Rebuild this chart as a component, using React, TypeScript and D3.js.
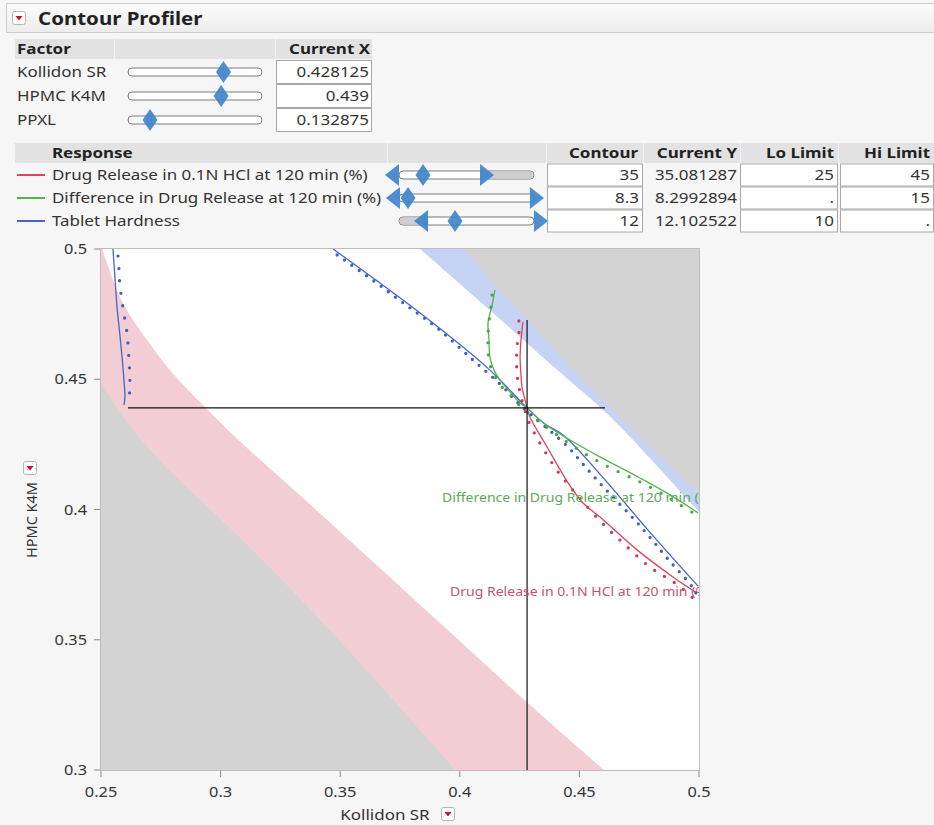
import { scaleLinear, line, curveCatmullRom, curveBasis } from 'd3'

const FONT = "'Segoe UI', 'Noto Sans', 'Open Sans', sans-serif"
// the reference screenshot is stretched horizontally, so text is widened to match
const STRETCH = 1.17

// ---- factor table ----
const factorNames = ['Kollidon SR', 'HPMC K4M', 'PPXL']
const factorValues = [0.428125, 0.439, 0.132875]
const factorRanges = [
  [0.25, 0.5],
  [0.3, 0.5],
  [0.1, 0.3],
]

// ---- response table ----
const responseNames = [
  'Drug Release in 0.1N HCl at 120 min (%)',
  'Difference in Drug Release at 120 min (%)',
  'Tablet Hardness',
]
const responseColors = ['#d6485c', '#58b252', '#4467c8']
const contourValues = ['35', '8.3', '12']
const currentYValues = ['35.081287', '8.2992894', '12.102522']
const loLimits = ['25', '.', '10']
const hiLimits = ['45', '15', '.']
// slider marks as fraction of the track: lo limit, contour, hi limit
const sliderLo = [0, 0.007, 0.215]
const sliderPos = [0.178, 0.067, 0.415]
const sliderHi = [0.6, 0.97, 1.0]
const sliderShadeLo = [false, false, true]
const sliderShadeHi = [true, false, false]

// ---- contour plot ----
const xTickValues = [0.25, 0.3, 0.35, 0.4, 0.45, 0.5]
const yTickValues = [0.3, 0.35, 0.4, 0.45, 0.5]

// shaded region boundaries [Kollidon SR, HPMC K4M]
const grayLowBoundary = [
  [0.25, 0.4486], [0.2651, 0.4267], [0.2914, 0.4036], [0.3181, 0.3806], [0.3595, 0.3403], [0.398, 0.3],
]
const pinkBoundary = [
  [0.2505, 0.5], [0.2538, 0.4908], [0.2592, 0.4777], [0.2692, 0.4651], [0.2788, 0.4528], [0.2914, 0.4413],
  [0.3069, 0.4267], [0.3332, 0.4056], [0.3629, 0.3806], [0.3959, 0.353], [0.4281, 0.3257], [0.4603, 0.3],
]
const blueBandBoundary = [
  [0.3834, 0.5], [0.4126, 0.4766], [0.4452, 0.4497], [0.4607, 0.4382], [0.4795, 0.4198], [0.5, 0.399],
]
const grayHighBoundary = [
  [0.4013, 0.5], [0.4252, 0.4758], [0.4511, 0.4497], [0.4753, 0.4278], [0.5, 0.4063],
]

// contour curves
const hardnessLeft = [
  [0.255, 0.5], [0.2559, 0.4881], [0.2567, 0.4777], [0.2579, 0.467], [0.2588, 0.4585], [0.2596, 0.4497],
  [0.26, 0.4432], [0.2596, 0.4401],
]
const hardnessLeftDots = [
  [0.2571, 0.4973], [0.2575, 0.4923], [0.2579, 0.4862], [0.2592, 0.4774], [0.2609, 0.4674], [0.2617, 0.4574],
  [0.2621, 0.4474], [0.2617, 0.4424],
]
const hardnessMain = [
  [0.347, 0.5], [0.3834, 0.4754], [0.4126, 0.4535], [0.4281, 0.439], [0.4356, 0.4328], [0.4432, 0.4286],
  [0.4586, 0.4136], [0.4787, 0.3921], [0.4996, 0.3706],
]
const hardnessMainDots = [
  [0.3487, 0.4977], [0.3629, 0.4885], [0.3763, 0.4793], [0.3905, 0.4697], [0.4055, 0.4574], [0.4181, 0.447],
  [0.4239, 0.4413], [0.4323, 0.4344], [0.4448, 0.4244], [0.4536, 0.4152], [0.462, 0.4067], [0.4712, 0.3979],
  [0.4787, 0.3902], [0.4866, 0.3814], [0.4975, 0.3699], [0.4992, 0.3668],
]
const releaseCurve = [
  [0.4264, 0.472], [0.4256, 0.4651], [0.4252, 0.4585], [0.4256, 0.4516], [0.426, 0.447], [0.4273, 0.442],
  [0.4281, 0.439], [0.4293, 0.4355], [0.4365, 0.424], [0.4448, 0.4109], [0.4515, 0.4025], [0.4586, 0.3971],
  [0.4741, 0.3845], [0.4891, 0.3741], [0.4992, 0.3679],
]
const releaseDots = [
  [0.4247, 0.4724], [0.4247, 0.4674], [0.4239, 0.4624], [0.4239, 0.4524], [0.4247, 0.4474], [0.4256, 0.4432],
  [0.4268, 0.4393], [0.4285, 0.4344], [0.4323, 0.4274], [0.4365, 0.4209], [0.4411, 0.4144], [0.449, 0.4056],
  [0.4595, 0.3948], [0.4678, 0.3875], [0.4795, 0.3779], [0.4912, 0.371], [0.4983, 0.3653],
]
const differenceCurve = [
  [0.4147, 0.4843], [0.4135, 0.4785], [0.4118, 0.4716], [0.4122, 0.4651], [0.4126, 0.4585], [0.4143, 0.4535],
  [0.4168, 0.4497], [0.421, 0.4451], [0.4252, 0.4409], [0.4281, 0.439], [0.4356, 0.4328], [0.4461, 0.4267],
  [0.4586, 0.4202], [0.4753, 0.4121], [0.4879, 0.4056], [0.4996, 0.3987],
]
const differenceDots = [
  [0.4135, 0.4823], [0.413, 0.4774], [0.4122, 0.472], [0.4118, 0.467], [0.4118, 0.4624], [0.4122, 0.4574],
  [0.4139, 0.4524], [0.4176, 0.447], [0.421, 0.444], [0.4239, 0.4409], [0.4323, 0.4344], [0.4419, 0.4278],
  [0.4532, 0.4209], [0.464, 0.4155], [0.4753, 0.4106], [0.4849, 0.4059], [0.4908, 0.4025], [0.4983, 0.3983],
]
const crossX = 0.428125
const crossY = 0.439
const crossHSpan = [0.2613, 0.4607]
const crossVSpan = [0.3, 0.4727]
const contourLabels = [
  { text: 'Difference in Drug Release at 120 min (%)', at: [0.3926, 0.4029], color: '#5daa5a' },
  { text: 'Drug Release in 0.1N HCl at 120 min (%)', at: [0.3959, 0.3668], color: '#c4566b' },
]

const SLIDER_BLUE = '#3e84cc'

type TProps = {
  x: number
  y: number
  size?: number
  bold?: boolean
  fill?: string
  anchor?: 'start' | 'middle' | 'end'
  children: any
}

function T({ x, y, size = 14.5, bold = false, fill = '#333', anchor = 'start', children }: TProps) {
  return (
    <text
      transform={`translate(${x},${y}) scale(${STRETCH},1)`}
      fontSize={size}
      fontWeight={bold ? 700 : 400}
      fill={fill}
      textAnchor={anchor}
    >
      {children}
    </text>
  )
}

function RedMenu({ x, y }: { x: number; y: number }) {
  return (
    <g transform={`translate(${x},${y})`}>
      <rect x={0.5} y={0.5} width={13} height={13} rx={2} fill="#fff" stroke="#b5b5b5" />
      <path d="M3.5,5 L10.5,5 L7,9.5 Z" fill="#c8102e" />
    </g>
  )
}

function Diamond({ cx, cy }: { cx: number; cy: number }) {
  return (
    <path
      d={`M${cx},${cy - 11} L${cx + 7.5},${cy} L${cx},${cy + 11} L${cx - 7.5},${cy} Z`}
      fill={SLIDER_BLUE}
      fillOpacity={0.92}
    />
  )
}

function Tri({ x, cy, dir }: { x: number; cy: number; dir: number }) {
  // flat side at x, tip pointing in dir
  return (
    <path d={`M${x},${cy - 11} L${x + dir * 14},${cy} L${x},${cy + 11} Z`} fill={SLIDER_BLUE} fillOpacity={0.92} />
  )
}

export default function App() {
  const W = 934
  const H = 825

  const x = scaleLinear().domain([0.25, 0.5]).range([101, 699])
  const y = scaleLinear().domain([0.3, 0.5]).range([770, 249])
  const [x0, x1] = x.range()
  const [y0, y1] = y.range()

  const curve = line<number[]>()
    .x((d) => x(d[0]))
    .y((d) => y(d[1]))
    .curve(curveCatmullRom.alpha(0.5))

  const smooth = line<number[]>()
    .x((d) => x(d[0]))
    .y((d) => y(d[1]))
    .curve(curveBasis)

  const region = (b: number[][], corners: number[][]) =>
    smooth(b) + corners.map((c) => `L${x(c[0])},${y(c[1])}`).join('') + 'Z'

  const grayLowPath = region(grayLowBoundary, [[0.25, 0.3]])
  const pinkPath = region(pinkBoundary, [[0.25, 0.3], [0.25, 0.5]])
  const bluePath = region(blueBandBoundary, [[0.5, 0.5]])
  const grayHighPath = region(grayHighBoundary, [[0.5, 0.5]])

  const solids = [
    { d: hardnessLeft, c: responseColors[2] },
    { d: hardnessMain, c: responseColors[2] },
    { d: releaseCurve, c: responseColors[0] },
    { d: differenceCurve, c: responseColors[1] },
  ]
  const dotted = [
    { d: hardnessLeftDots, c: '#3f5fc4', gap: 12.5 },
    { d: hardnessMainDots, c: '#3f5fc4', gap: 9 },
    { d: releaseDots, c: '#c83d57', gap: 11.5 },
    { d: differenceDots, c: '#45a845', gap: 12 },
  ]

  const fTrack = [128, 262]
  const rTrack = [399, 534]

  return (
    <svg width={W} height={H} style={{ position: 'absolute', left: 0, top: 0, fontFamily: FONT }}>
      <defs>
        <linearGradient id="hdr" x1="0" y1="0" x2="0" y2="1">
          <stop offset="0" stopColor="#fbfbfb" />
          <stop offset="1" stopColor="#ececec" />
        </linearGradient>
        <clipPath id="plotClip">
          <rect x={x0} y={y1} width={x1 - x0} height={y0 - y1} />
        </clipPath>
      </defs>
      <rect width={W} height={H} fill="#f6f6f6" />

      {/* header */}
      <rect x={6.5} y={3.5} width={W} height={29} fill="url(#hdr)" stroke="#cdcdcd" />
      <RedMenu x={12} y={11} />
      <T x={38} y={24.5} size={17.5} bold fill="#222">
        Contour Profiler
      </T>

      {/* factor table */}
      <rect x={15} y={39} width={357} height={20} fill="#e2e2e2" />
      <line x1={114.5} x2={114.5} y1={39} y2={59} stroke="#f2f2f2" />
      <line x1={275.5} x2={275.5} y1={39} y2={59} stroke="#f2f2f2" />
      <T x={17} y={54} bold fill="#222">
        Factor
      </T>
      <T x={370} y={54} bold fill="#222" anchor="end">
        Current X
      </T>
      {factorNames.map((name, i) => {
        const cy = 72 + i * 24
        const s = scaleLinear().domain(factorRanges[i]).range(fTrack)
        return (
          <g key={name}>
            <T x={17} y={cy + 5}>
              {name}
            </T>
            <rect x={fTrack[0]} y={cy - 4} width={fTrack[1] - fTrack[0]} height={8} rx={4} fill="#fff" stroke="#7a7a7a" />
            <Diamond cx={s(factorValues[i])} cy={cy} />
            <rect x={276.5} y={cy - 11.5} width={95} height={23} fill="#fff" stroke="#a8a8a8" />
            <T x={369} y={cy + 5} anchor="end">
              {String(factorValues[i])}
            </T>
          </g>
        )
      })}

      {/* response table */}
      <rect x={15} y={143} width={W - 15} height={20} fill="#e2e2e2" />
      {[387.5, 546.5, 643.5, 740.5, 838.5].map((lx) => (
        <line key={lx} x1={lx} x2={lx} y1={143} y2={163} stroke="#f2f2f2" />
      ))}
      <T x={52} y={158} bold fill="#222">
        Response
      </T>
      {(
        [
          ['Contour', 638],
          ['Current Y', 737],
          ['Lo Limit', 834],
          ['Hi Limit', 930],
        ] as [string, number][]
      ).map(([t, tx]) => (
        <T key={t} x={tx} y={158} bold fill="#222" anchor="end">
          {t}
        </T>
      ))}
      {responseNames.map((name, i) => {
        const cy = 175 + i * 23
        const tw = rTrack[1] - rTrack[0]
        const lo = rTrack[0] + sliderLo[i] * tw
        const hi = rTrack[0] + sliderHi[i] * tw
        return (
          <g key={name}>
            <line x1={17} x2={45} y1={cy} y2={cy} stroke={responseColors[i]} strokeWidth={2} />
            <T x={52} y={cy + 5}>
              {name}
            </T>
            <rect x={rTrack[0]} y={cy - 4} width={tw} height={8} rx={4} fill="#fff" stroke="#7a7a7a" />
            {sliderShadeHi[i] && (
              <rect x={hi} y={cy - 3.5} width={rTrack[1] - hi - 0.5} height={7} rx={3.5} fill="#cfcfcf" />
            )}
            {sliderShadeLo[i] && (
              <rect x={rTrack[0] + 0.5} y={cy - 3.5} width={lo - rTrack[0]} height={7} rx={3.5} fill="#cfcfcf" />
            )}
            <Tri x={lo} cy={cy} dir={-1} />
            <Diamond cx={rTrack[0] + sliderPos[i] * tw} cy={cy} />
            <Tri x={hi} cy={cy} dir={1} />
            <rect x={547.5} y={cy - 11} width={95} height={22} fill="#fff" stroke="#a8a8a8" />
            <T x={639} y={cy + 5} anchor="end">
              {contourValues[i]}
            </T>
            <T x={737} y={cy + 5} anchor="end">
              {currentYValues[i]}
            </T>
            <rect x={740.5} y={cy - 11} width={97} height={22} fill="#fff" stroke="#a8a8a8" />
            <T x={834} y={cy + 5} anchor="end">
              {loLimits[i]}
            </T>
            <rect x={840.5} y={cy - 11} width={93} height={22} fill="#fff" stroke="#a8a8a8" />
            <T x={930} y={cy + 5} anchor="end">
              {hiLimits[i]}
            </T>
          </g>
        )
      })}

      {/* contour plot */}
      <rect x={x0} y={y1} width={x1 - x0} height={y0 - y1} fill="#fff" />
      <g clipPath="url(#plotClip)">
        <path d={pinkPath} fill="#f3cdd4" />
        <path d={grayLowPath} fill="#d3d3d3" />
        <path d={bluePath} fill="#c7d3f4" />
        <path d={grayHighPath} fill="#d3d3d3" />
        {solids.map((s, i) => (
          <path key={i} d={curve(s.d) || ''} fill="none" stroke={s.c} strokeWidth={1.3} />
        ))}
        {dotted.map((s, i) => (
          <path
            key={i}
            d={curve(s.d) || ''}
            fill="none"
            stroke={s.c}
            strokeWidth={3.3}
            strokeLinecap="round"
            strokeDasharray={`0 ${s.gap}`}
          />
        ))}
        <line x1={x(crossHSpan[0])} x2={x(crossHSpan[1])} y1={y(crossY)} y2={y(crossY)} stroke="#111" strokeWidth={1.2} />
        <line x1={x(crossX)} x2={x(crossX)} y1={y(crossVSpan[0])} y2={y(crossVSpan[1])} stroke="#111" strokeWidth={1.2} />
        {contourLabels.map((l) => (
          <T key={l.text} x={x(l.at[0])} y={y(l.at[1])} size={12} fill={l.color}>
            {l.text}
          </T>
        ))}
      </g>
      <rect x={x0 - 0.5} y={y1 - 0.5} width={x1 - x0 + 1} height={y0 - y1 + 1} fill="none" stroke="#bdbdbd" />

      {/* axes */}
      {yTickValues.map((t) => (
        <g key={t}>
          <line x1={x0 - 7} x2={x0 - 1} y1={y(t)} y2={y(t)} stroke="#888" />
          <T x={x0 - 14} y={y(t) + 5} size={14} anchor="end">
            {String(t)}
          </T>
        </g>
      ))}
      {xTickValues.map((t) => (
        <g key={t}>
          <line x1={x(t)} x2={x(t)} y1={y0 + 1} y2={y0 + 7} stroke="#888" />
          <T x={x(t)} y={y0 + 27} size={14} anchor="middle">
            {String(t)}
          </T>
        </g>
      ))}
      <T x={385} y={820} anchor="middle">
        Kollidon SR
      </T>
      <RedMenu x={441} y={807} />
      <text transform="translate(37,520) rotate(-90)" fontSize={14.5} fill="#333" textAnchor="middle">
        HPMC K4M
      </text>
      <RedMenu x={23} y={461} />
    </svg>
  )
}
